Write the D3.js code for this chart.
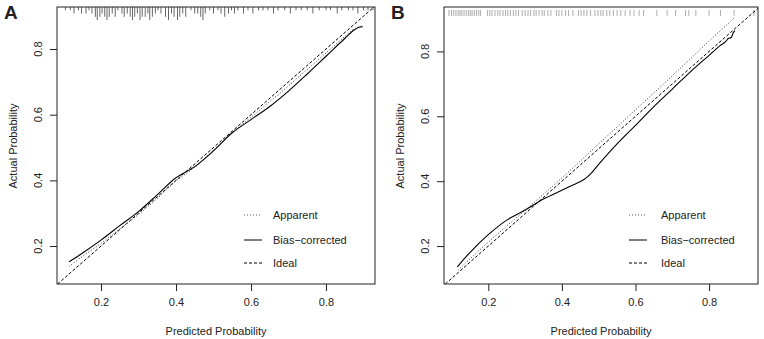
<!DOCTYPE html>
<html>
<head>
<meta charset="utf-8">
<script src="https://cdn.jsdelivr.net/npm/d3@7"></script>
<style>
  body { margin: 0; background: #fff; }
  text { font-family: "Liberation Sans", Arial, sans-serif; fill: #222; }
</style>
</head>
<body>
<svg id="chart" width="764" height="339"></svg>
<script>
// calibration curves, panel A and panel B

const ticks = [0.2, 0.4, 0.6, 0.8];
const legendLabels = ['Apparent', 'Bias\u2212corrected', 'Ideal'];

// panel A
const limA = { x: [0.0827, 0.9307], y: [0.0844, 0.928] };
const apparentAx = [0.115, 0.15, 0.2, 0.25, 0.3, 0.35, 0.4, 0.45, 0.5, 0.55, 0.6, 0.65, 0.7, 0.75, 0.8, 0.85, 0.88, 0.898];
const apparentAy = [0.138, 0.168, 0.208, 0.252, 0.296, 0.345, 0.398, 0.44, 0.492, 0.545, 0.592, 0.64, 0.688, 0.738, 0.788, 0.838, 0.864, 0.87];
const biasAx = [0.115, 0.15, 0.2, 0.25, 0.3, 0.35, 0.4, 0.45, 0.5, 0.55, 0.6, 0.65, 0.7, 0.75, 0.8, 0.85, 0.875, 0.89, 0.898];
const biasAy = [0.152, 0.178, 0.218, 0.262, 0.305, 0.356, 0.408, 0.442, 0.49, 0.545, 0.585, 0.625, 0.672, 0.724, 0.778, 0.832, 0.858, 0.867, 0.868];
const rugAx = [0.105, 0.118, 0.128, 0.14, 0.148, 0.16, 0.168, 0.176, 0.185, 0.19, 0.197, 0.203, 0.21, 0.216, 0.222, 0.23, 0.238, 0.245, 0.256, 0.262, 0.27, 0.278, 0.284, 0.29, 0.297, 0.304, 0.31, 0.318, 0.325, 0.33, 0.337, 0.345, 0.352, 0.36, 0.372, 0.38, 0.388, 0.395, 0.404, 0.41, 0.418, 0.426, 0.44, 0.45, 0.458, 0.466, 0.472, 0.478, 0.49, 0.5, 0.512, 0.52, 0.53, 0.54, 0.548, 0.556, 0.565, 0.58, 0.592, 0.605, 0.62, 0.632, 0.645, 0.66, 0.672, 0.69, 0.705, 0.72, 0.734, 0.75, 0.765, 0.782, 0.8, 0.812, 0.83, 0.842, 0.86, 0.872, 0.885, 0.9, 0.912, 0.925];
const rugAn = [1, 1, 2, 1, 2, 2, 1, 2, 3, 4, 3, 2, 3, 4, 3, 2, 3, 1, 2, 3, 2, 3, 4, 3, 2, 4, 3, 3, 2, 4, 3, 2, 1, 2, 3, 4, 2, 3, 4, 3, 2, 3, 1, 2, 2, 3, 4, 2, 1, 2, 1, 2, 3, 2, 1, 2, 1, 2, 1, 2, 1, 1, 1, 2, 1, 1, 2, 1, 1, 1, 2, 1, 1, 1, 2, 1, 1, 1, 2, 1, 1, 1];

// panel B
const limB = { x: [0.0796, 0.933], y: [0.083, 0.937] };
const apparentBx = [0.118, 0.15, 0.2, 0.25, 0.3, 0.35, 0.4, 0.45, 0.5, 0.55, 0.6, 0.65, 0.7, 0.75, 0.8, 0.85, 0.87];
const apparentBy = [0.126, 0.16, 0.212, 0.262, 0.31, 0.36, 0.41, 0.462, 0.515, 0.567, 0.62, 0.672, 0.725, 0.778, 0.832, 0.884, 0.905];
const biasBx = [0.116, 0.15, 0.2, 0.25, 0.3, 0.35, 0.4, 0.43, 0.46, 0.48, 0.5, 0.55, 0.6, 0.65, 0.7, 0.75, 0.8, 0.83, 0.845, 0.852, 0.86, 0.865, 0.87];
const biasBy = [0.136, 0.18, 0.235, 0.28, 0.311, 0.345, 0.372, 0.388, 0.405, 0.425, 0.452, 0.515, 0.572, 0.63, 0.684, 0.738, 0.788, 0.818, 0.83, 0.84, 0.843, 0.856, 0.864];
const rugBx = [0.093, 0.1, 0.106, 0.112, 0.118, 0.123, 0.128, 0.134, 0.14, 0.146, 0.151, 0.156, 0.162, 0.168, 0.174, 0.179, 0.198, 0.204, 0.21, 0.218, 0.226, 0.232, 0.24, 0.247, 0.253, 0.26, 0.268, 0.275, 0.282, 0.292, 0.3, 0.308, 0.315, 0.324, 0.33, 0.338, 0.346, 0.352, 0.362, 0.37, 0.385, 0.392, 0.4, 0.41, 0.418, 0.43, 0.445, 0.452, 0.46, 0.468, 0.478, 0.49, 0.498, 0.506, 0.512, 0.522, 0.53, 0.54, 0.55, 0.56, 0.572, 0.585, 0.596, 0.61, 0.622, 0.658, 0.686, 0.709, 0.736, 0.745, 0.764, 0.8, 0.831, 0.868, 0.922];

const svg = d3.select('#chart');

function drawPanel(opt) {
    const x = d3.scaleLinear().domain(opt.lim.x).range([opt.left, opt.right]);
    const y = d3.scaleLinear().domain(opt.lim.y).range([284, 7]);
    const g = svg.append('g');

    // clip per le linee
    const clipId = 'clip' + opt.name;
    svg.append('clipPath').attr('id', clipId)
        .append('rect')
        .attr('x', opt.left).attr('y', 7)
        .attr('width', opt.right - opt.left).attr('height', 284 - 7);

    // rug in alto
    if (opt.rugN) {
        const len = d3.scaleLinear().domain([0, 4]).range([0, 13]);
        g.selectAll('.rug').data(opt.rugX).join('line')
            .attr('x1', d => x(d)).attr('x2', d => x(d))
            .attr('y1', 7)
            .attr('y2', (d, i) => 7 + len(opt.rugN[i]))
            .attr('stroke', '#666').attr('stroke-width', 1);
    } else {
        g.selectAll('.rug').data(opt.rugX).join('line')
            .attr('x1', d => x(d)).attr('x2', d => x(d))
            .attr('y1', 10).attr('y2', 16)
            .attr('stroke', '#999').attr('stroke-width', 0.8);
    }

    // linea ideale
    const lo = Math.max(opt.lim.x[0], opt.lim.y[0]);
    const hi = Math.min(opt.lim.x[1], opt.lim.y[1]);
    g.append('line')
        .attr('clip-path', `url(#${clipId})`)
        .attr('x1', x(lo)).attr('y1', y(lo))
        .attr('x2', x(hi)).attr('y2', y(hi))
        .attr('stroke', '#000').attr('stroke-width', 1)
        .attr('stroke-dasharray', '3,2');

    const line = d3.line().curve(d3.curveCatmullRom);

    g.append('path')
        .datum(opt.appX.map((d, i) => [x(d), y(opt.appY[i])]))
        .attr('d', line)
        .attr('fill', 'none').attr('stroke', '#333').attr('stroke-width', 1)
        .attr('stroke-dasharray', '1,2');

    g.append('path')
        .datum(opt.biasX.map((d, i) => [x(d), y(opt.biasY[i])]))
        .attr('d', line)
        .attr('fill', 'none').attr('stroke', '#000').attr('stroke-width', 1.1);

    // box
    g.append('rect')
        .attr('x', opt.left).attr('y', 7)
        .attr('width', opt.right - opt.left).attr('height', 284 - 7)
        .attr('fill', 'none').attr('stroke', '#222').attr('stroke-width', 1);

    // assi
    const xAxis = g.append('g')
        .attr('transform', 'translate(0,284)')
        .call(d3.axisBottom(x).tickValues(ticks).tickSize(7).tickPadding(7).tickFormat(d3.format('.1f')));
    xAxis.select('.domain').remove();
    const yAxis = g.append('g')
        .attr('transform', `translate(${opt.left},0)`)
        .call(d3.axisLeft(y).tickValues(ticks).tickSize(7).tickFormat(''));
    yAxis.select('.domain').remove();
    // etichette y ruotate come in R
    g.selectAll('.ylab').data(ticks).join('text')
        .attr('transform', d => `translate(${opt.left - 15},${y(d)}) rotate(-90)`)
        .attr('text-anchor', 'middle')
        .style('font-size', '11px')
        .text(d3.format('.1f'));
    g.selectAll('.tick text').style('font-size', '11px').style('font-family', '"Liberation Sans", Arial, sans-serif').attr('fill', '#222');
    g.selectAll('.tick line').attr('stroke', '#222');

    // titoli assi
    g.append('text')
        .attr('x', (opt.left + opt.right) / 2).attr('y', 335)
        .attr('text-anchor', 'middle').style('font-size', '11px')
        .text('Predicted Probability');
    g.append('text')
        .attr('transform', `translate(${opt.left - 40},146) rotate(-90)`)
        .attr('text-anchor', 'middle').style('font-size', '11px')
        .text('Actual Probability');

    // lettera del pannello
    g.append('text')
        .attr('x', opt.left - 53).attr('y', 19)
        .style('font-size', '19px').style('font-weight', 'bold')
        .attr('fill', '#000')
        .text(opt.name);

    // legenda
    const styles = ['1,2', null, '3,2'];
    const rows = [215, 240, 263];
    legendLabels.forEach((lab, i) => {
        g.append('line')
            .attr('x1', opt.legX).attr('x2', opt.legX + 18)
            .attr('y1', rows[i]).attr('y2', rows[i])
            .attr('stroke', i === 0 ? '#555' : '#000').attr('stroke-width', 1)
            .attr('stroke-dasharray', styles[i]);
        g.append('text')
            .attr('x', opt.legX + opt.legGap).attr('y', rows[i] + 4)
            .style('font-size', '11px')
            .text(lab);
    });
}

drawPanel({ name: 'A', lim: limA, left: 57, right: 375,
    appX: apparentAx, appY: apparentAy, biasX: biasAx, biasY: biasAy,
    rugX: rugAx, rugN: rugAn, legX: 244, legGap: 29 });

drawPanel({ name: 'B', lim: limB, left: 444, right: 758,
    appX: apparentBx, appY: apparentBy, biasX: biasBx, biasY: biasBy,
    rugX: rugBx, rugN: null, legX: 629, legGap: 32 });
</script>
</body>
</html>
